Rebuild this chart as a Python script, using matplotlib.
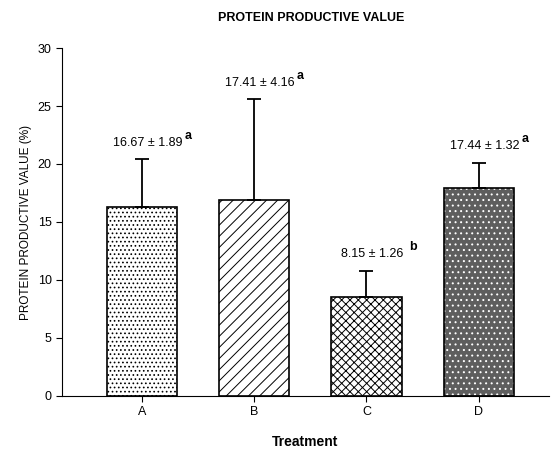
import matplotlib.pyplot as plt

plt.rcParams['font.family'] = ['Liberation Sans', 'DejaVu Sans']

# data
treatments = ['A', 'B', 'C', 'D']
means = [16.3, 16.9, 8.5, 17.9]
upper_err = [4.1, 8.7, 2.3, 2.2]
labels = ['16.67 \u00b1 1.89', '17.41 \u00b1 4.16', '8.15 \u00b1 1.26', '17.44 \u00b1 1.32']
letters = ['a', 'a', 'b', 'a']

hatches = ['....', '///', 'xxxx', '...']
faces = ['white', 'white', 'white', '#5e5e5e']
hatch_cols = ['black', 'black', 'black', 'white']

fig = plt.figure(figsize=(5.51, 4.53), dpi=100)
ax = fig.add_axes([0.1125, 0.126, 0.883, 0.768])

x = range(len(treatments))
width = 0.625
plt.rcParams['hatch.linewidth'] = 0.7

for i in x:
    ax.bar(i, means[i], width, color=faces[i], hatch=hatches[i],
           edgecolor=hatch_cols[i], linewidth=0)
    ax.bar(i, means[i], width, fill=False, edgecolor='black', linewidth=1.2)

ax.errorbar(list(x), means, yerr=[[0] * 4, upper_err], fmt='none',
            ecolor='black', elinewidth=1.3, capsize=5, capthick=1.3)

for i in x:
    top = means[i] + upper_err[i]
    ax.text(i + 0.05, top + 0.9, labels[i], ha='center', va='bottom', fontsize=9)
    ax.text(i + 0.38, top + 1.5, letters[i], ha='left', va='bottom',
            fontsize=9, fontweight='bold')

ax.set_xlim(-0.71, 3.62)
ax.set_ylim(0, 30)
ax.set_xticks(list(x))
ax.set_xticklabels(treatments, fontsize=9)
ax.set_yticks(range(0, 31, 5))
ax.tick_params(axis='y', labelsize=9, length=4)
ax.tick_params(axis='x', length=4)
ax.spines['top'].set_visible(False)
ax.spines['right'].set_visible(False)

ax.set_ylabel('PROTEIN PRODUCTIVE VALUE (%)', fontsize=8.5)
ax.set_xlabel('Treatment', fontsize=10, fontweight='bold', labelpad=12)
fig.text(0.565, 0.96, 'PROTEIN PRODUCTIVE VALUE', ha='center', va='center',
         fontsize=9, fontweight='bold')

fig.savefig('out.png', dpi=100)
